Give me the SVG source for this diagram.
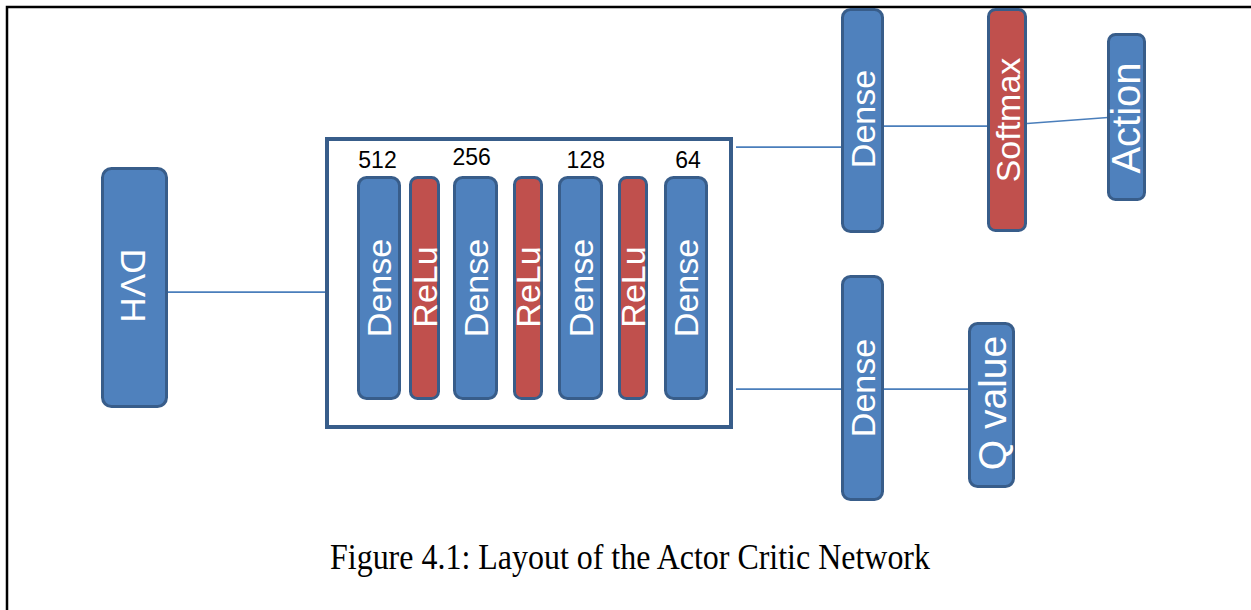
<svg xmlns="http://www.w3.org/2000/svg" width="1251" height="610" viewBox="0 0 1251 610">
  <style>
    .blk { fill: #4f81bd; stroke: #385d8a; stroke-width: 3; }
    .act { fill: #c0504d; stroke: #385d8a; stroke-width: 3; }
    .lbl { font-family: "Liberation Sans", Arial, sans-serif; fill: #ffffff; text-anchor: middle; }
    .num { font-family: "Liberation Sans", Arial, sans-serif; font-size: 23px; fill: #000000; text-anchor: middle; }
    .wire { stroke: #4a7ebb; stroke-width: 1.75; fill: none; }
  </style>
  <rect width="1251" height="610" fill="#ffffff"/>
  <!-- frame (top and left edges) -->
  <path d="M7,610 V7 H1251" fill="none" stroke="#000000" stroke-width="2.5"/>

  <g id="connectors">
    <line class="wire" x1="168" y1="292" x2="326" y2="292"/>
    <line class="wire" x1="736" y1="147" x2="842" y2="147"/>
    <line class="wire" x1="884" y1="126" x2="988" y2="126"/>
    <line class="wire" x1="1027" y1="123.5" x2="1108" y2="117.5"/>
    <line class="wire" x1="736" y1="389" x2="842" y2="389"/>
    <line class="wire" x1="884" y1="389" x2="969" y2="389"/>
  </g>

  <g id="dvh">
    <rect class="blk" x="102.5" y="168.5" width="64" height="238" rx="9"/>
    <text class="lbl" font-size="35" transform="translate(120.5,285.5) rotate(90)">DVH</text>
  </g>

  <g id="shared-trunk">
    <rect x="327" y="139" width="404" height="288" fill="#ffffff" stroke="#385d8a" stroke-width="4"/>
    <g id="dense-512">
      <text class="num" x="377.5" y="168">512</text>
      <rect class="blk" x="358.5" y="177.5" width="41" height="221" rx="8"/>
      <text class="lbl" font-size="34" transform="translate(391,288) rotate(-90)">Dense</text>
    </g>
    <g id="relu-1">
      <rect class="act" x="410.5" y="177.5" width="28" height="221" rx="7"/>
      <text class="lbl" font-size="34" transform="translate(436.7,287) rotate(-90)">ReLu</text>
    </g>
    <g id="dense-256">
      <text class="num" x="471.7" y="165">256</text>
      <rect class="blk" x="454.5" y="177.5" width="42" height="221" rx="8"/>
      <text class="lbl" font-size="34" transform="translate(487.7,288) rotate(-90)">Dense</text>
    </g>
    <g id="relu-2">
      <rect class="act" x="514.5" y="177.5" width="27" height="221" rx="7"/>
      <text class="lbl" font-size="34" transform="translate(540,287) rotate(-90)">ReLu</text>
    </g>
    <g id="dense-128">
      <text class="num" x="585.8" y="168">128</text>
      <rect class="blk" x="559.5" y="177.5" width="42" height="221" rx="8"/>
      <text class="lbl" font-size="34" transform="translate(592.7,288) rotate(-90)">Dense</text>
    </g>
    <g id="relu-3">
      <rect class="act" x="619.5" y="177.5" width="27" height="221" rx="7"/>
      <text class="lbl" font-size="34" transform="translate(645,287) rotate(-90)">ReLu</text>
    </g>
    <g id="dense-64">
      <text class="num" x="688" y="168">64</text>
      <rect class="blk" x="665.5" y="177.5" width="41" height="221" rx="8"/>
      <text class="lbl" font-size="34" transform="translate(698,288) rotate(-90)">Dense</text>
    </g>
  </g>

  <g id="actor-dense">
    <rect class="blk" x="842.5" y="9.5" width="40" height="222" rx="8"/>
    <text class="lbl" font-size="34" transform="translate(875,119) rotate(-90)">Dense</text>
  </g>
  <g id="softmax">
    <rect class="act" x="988.5" y="9.5" width="37" height="221" rx="7"/>
    <text class="lbl" font-size="34" transform="translate(1019.7,120) rotate(-90)">Softmax</text>
  </g>
  <g id="action">
    <rect class="blk" x="1108.5" y="34.5" width="36" height="165" rx="7"/>
    <text class="lbl" font-size="40" transform="translate(1139.6,118) rotate(-90)">Action</text>
  </g>

  <g id="critic-dense">
    <rect class="blk" x="842.5" y="276.5" width="40" height="223" rx="8"/>
    <text class="lbl" font-size="34" transform="translate(875,388) rotate(-90)">Dense</text>
  </g>
  <g id="q-value">
    <rect class="blk" x="969.5" y="323.5" width="44" height="163" rx="8"/>
    <text class="lbl" font-size="39" transform="translate(1005.5,403) rotate(-90)">Q value</text>
  </g>

  <text x="330" y="569" font-family="'Liberation Serif', 'Times New Roman', serif" font-size="36" textLength="600" lengthAdjust="spacingAndGlyphs" fill="#000000">Figure 4.1: Layout of the Actor Critic Network</text>
</svg>
